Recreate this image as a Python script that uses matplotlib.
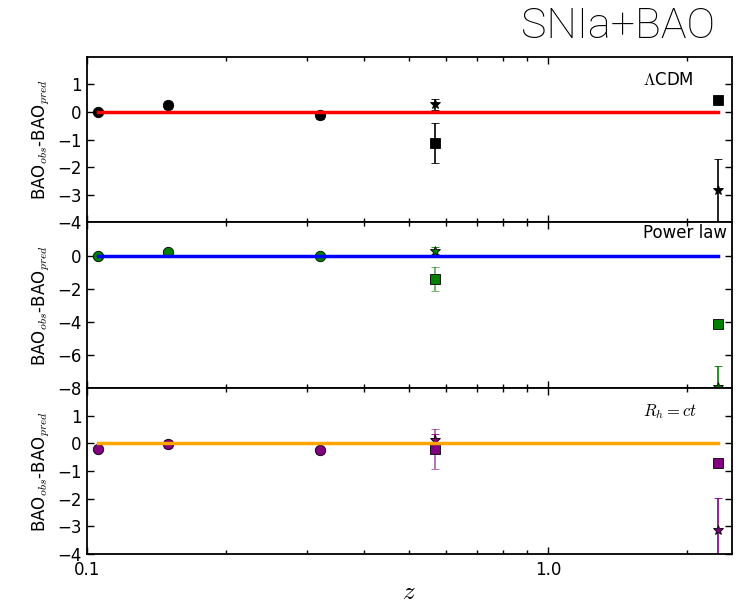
import matplotlib
matplotlib.use("Agg")
import matplotlib.pyplot as plt
from matplotlib.ticker import FixedLocator, FixedFormatter, LogLocator, NullFormatter

plt.rcParams['mathtext.fontset'] = 'cm'
plt.rcParams['font.family'] = ['DejaVu Sans']

# ---- data ----
z_circ = [0.106, 0.15, 0.32]
z_sq = [0.57, 2.34]
z_st = [0.57, 2.34]
model_z = [0.106, 2.34]
model_y = [0.0, 0.0]

err_circ = [0.10, 0.15, 0.14]

lcdm_circ = [0.0, 0.24, -0.11]
lcdm_sq = [-1.13, 0.42]
lcdm_sq_err = [0.73, 0.12]
lcdm_st = [0.27, -2.84]
lcdm_st_err = [0.20, 1.15]

pl_circ = [0.0, 0.22, -0.04]
pl_sq = [-1.43, -4.10]
pl_sq_err = [0.73, 0.12]
pl_st = [0.30, -7.90]
pl_st_err = [0.20, 1.22]

rh_circ = [-0.20, -0.02, -0.25]
rh_sq = [-0.19, -0.69]
rh_sq_err = [0.73, 0.12]
rh_st = [0.13, -3.14]
rh_st_err = [0.21, 1.15]

panels = [
    dict(circ=lcdm_circ, sq=lcdm_sq, sqe=lcdm_sq_err, st=lcdm_st, ste=lcdm_st_err,
         mc='black', ec='black', ealpha=1.0, lc='red', label=r'$\Lambda$CDM',
         ylim=(-4, 2), yticks=[-4, -3, -2, -1, 0, 1], ty=0.86),
    dict(circ=pl_circ, sq=pl_sq, sqe=pl_sq_err, st=pl_st, ste=pl_st_err,
         mc='green', ec='green', ealpha=0.65, lc='blue', label='Power law',
         ylim=(-8, 2), yticks=[-8, -6, -4, -2, 0], ty=0.935),
    dict(circ=rh_circ, sq=rh_sq, sqe=rh_sq_err, st=rh_st, ste=rh_st_err,
         mc='purple', ec='purple', ealpha=0.65, lc='orange', label=r'$R_h=ct$',
         ylim=(-4, 2), yticks=[-4, -3, -2, -1, 0, 1], ty=0.86),
]

fig = plt.figure(figsize=(7.52, 6.08), dpi=100)
left, right = 86.7 / 752, 731.7 / 752
top = 1 - 56.7 / 608
bottom = 1 - 554 / 608
h = (top - bottom) / 3

for i, p in enumerate(panels):
    ax = fig.add_axes([left, top - (i + 1) * h, right - left, h])
    ax.set_xscale('log')
    ax.errorbar(z_circ, p['circ'], yerr=err_circ, fmt='o', color=p['mc'],
                mec='black', mew=0.6, ms=7.5, ecolor=p['ec'], elinewidth=1.2,
                capsize=3, zorder=2)
    eb = ax.errorbar(z_sq, p['sq'], yerr=p['sqe'], fmt='s', color=p['mc'],
                     mec='black', mew=0.6, ms=7.5, ecolor=p['ec'], elinewidth=1.2,
                     capsize=3, zorder=2)
    for c in eb[1] + eb[2]:
        c.set_alpha(p['ealpha'])
    ax.errorbar(z_st, p['st'], yerr=p['ste'], fmt='*', color=p['mc'],
                mec='black', mew=0.6, ms=7, ecolor=p['ec'], elinewidth=1.2,
                capsize=3, zorder=2)
    ax.plot(model_z, model_y, color=p['lc'], lw=2.5, zorder=3)
    ax.set_xlim(0.1, 2.5)
    ax.set_ylim(*p['ylim'])
    ax.set_yticks(p['yticks'])
    ax.set_ylabel(r'BAO$_{obs}$-BAO$_{pred}$', fontsize=12)
    ax.xaxis.set_major_locator(FixedLocator([0.1, 1.0]))
    ax.xaxis.set_minor_locator(LogLocator(base=10, subs=range(2, 10)))
    ax.xaxis.set_minor_formatter(NullFormatter())
    if i == 2:
        ax.xaxis.set_major_formatter(FixedFormatter(['0.1', '1.0']))
        ax.set_xlabel(r'$z$', fontsize=18, labelpad=1)
    else:
        ax.xaxis.set_major_formatter(NullFormatter())
    ax.tick_params(which='both', direction='in', top=True, right=True,
                   labelsize=12)
    ax.tick_params(which='major', length=5, width=1)
    ax.tick_params(which='minor', length=3, width=1)
    ax.tick_params(axis='x', which='major', pad=5)
    for s in ax.spines.values():
        s.set_linewidth(1.3)
    ax.text(0.862, p['ty'], p['label'], transform=ax.transAxes, fontsize=12,
            ha='left', va='center')

fig.text(618 / 752, 1 - 26 / 608, 'SNIa+BAO', fontsize=31, ha='center',
         va='center', family=['Roboto', 'DejaVu Sans'], fontweight='light',
         color='black')

fig.savefig('out.png', dpi=100)
